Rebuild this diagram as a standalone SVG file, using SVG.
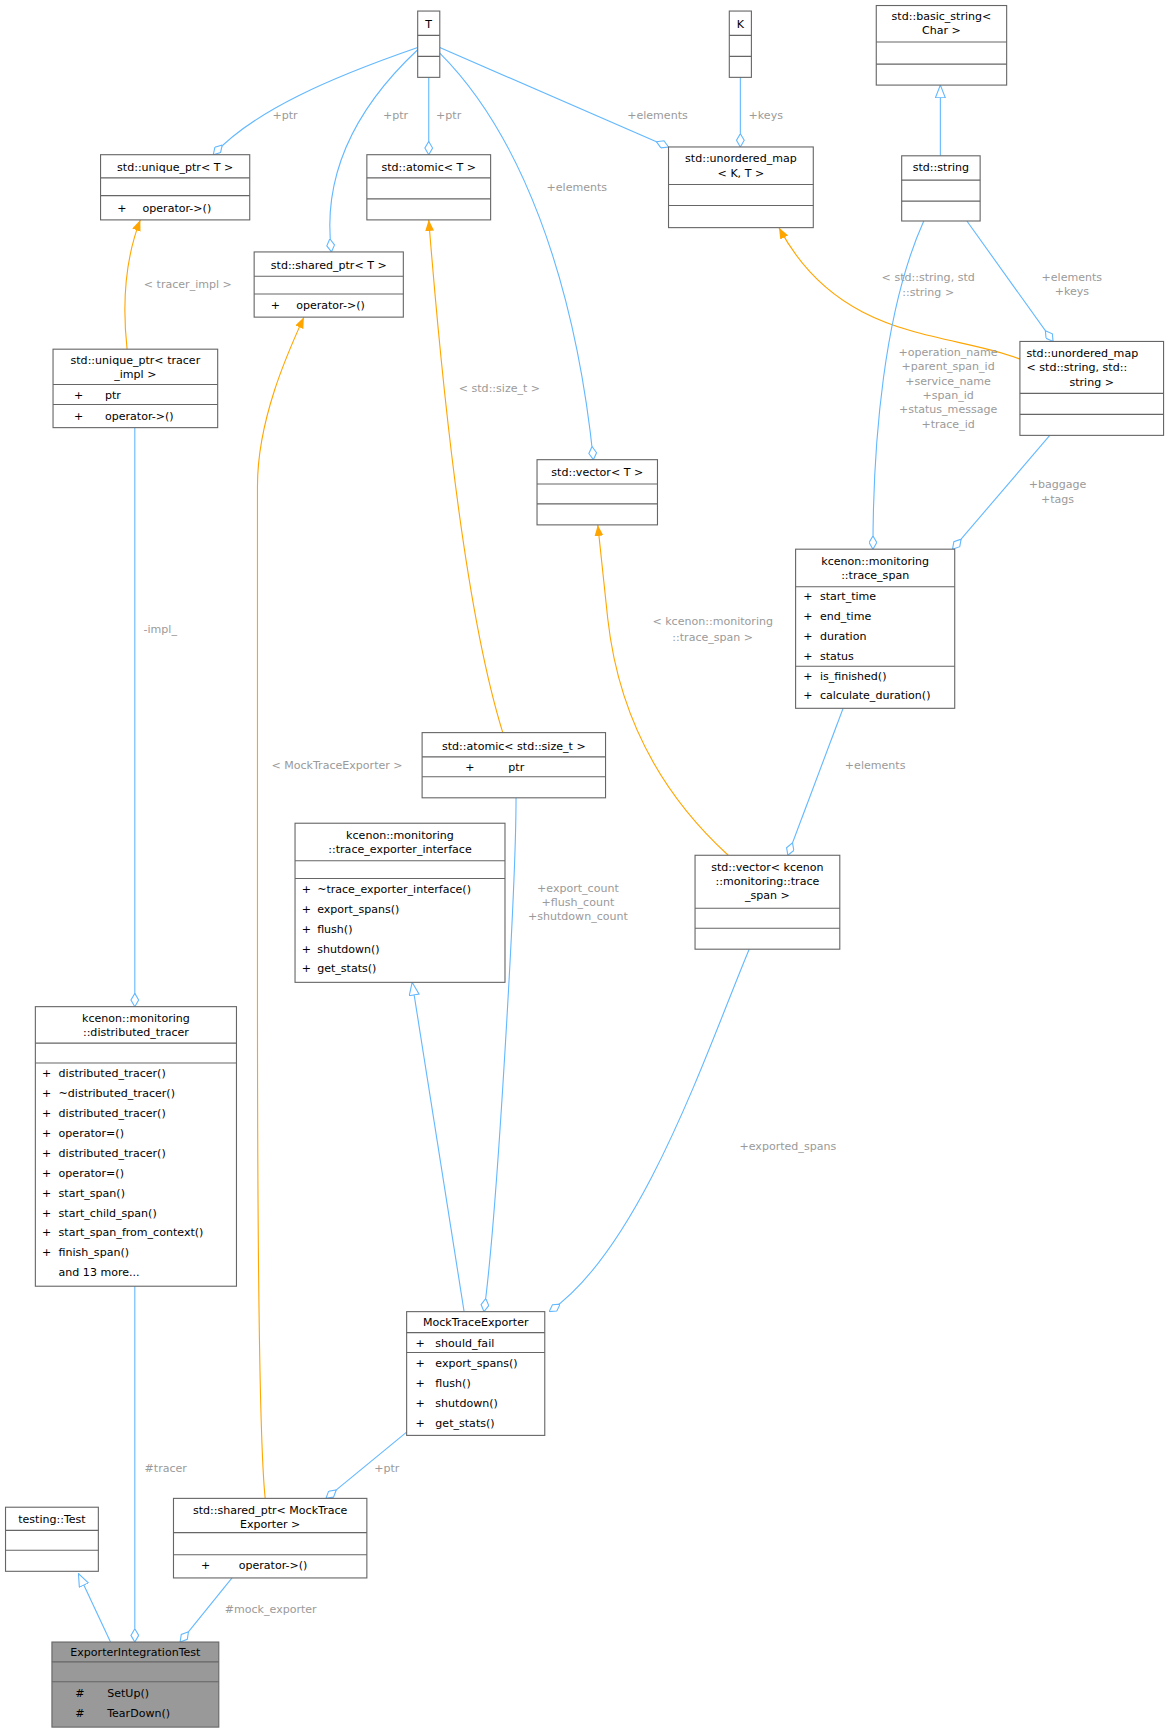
<svg xmlns="http://www.w3.org/2000/svg" width="1169" height="1732" viewBox="0 0 1169 1732">
<style>
text{font-family:"DejaVu Sans",sans-serif;font-size:10px;fill:#000}
.b{fill:#fff;stroke:#666;stroke-width:1}
.s{stroke:#666;stroke-width:1}
.c{text-anchor:middle}
.l{fill:#9a9a9a;text-anchor:middle}
.e{fill:none;stroke:#63b8ff;stroke-width:1}
.o{fill:none;stroke:#ffa500;stroke-width:1}
</style>
<defs>
<marker id="d" viewBox="0 0 12 8" refX="12" refY="4" markerWidth="12" markerHeight="8" markerUnits="userSpaceOnUse" orient="auto"><path d="M0,4 L6,0.5 L12,4 L6,7.5 Z" fill="#fff" stroke="#63b8ff"/></marker>
<marker id="t" viewBox="0 0 12 10" refX="12" refY="5" markerWidth="12" markerHeight="10" markerUnits="userSpaceOnUse" orient="auto"><path d="M0.5,0.5 L12,5 L0.5,9.5 Z" fill="#fff" stroke="#63b8ff"/></marker>
<marker id="a" viewBox="0 0 10 8" refX="10" refY="4" markerWidth="10" markerHeight="8" markerUnits="userSpaceOnUse" orient="auto"><path d="M0,0 L10,4 L0,8 Z" fill="#ffa500"/></marker>
</defs>
<rect width="1169" height="1732" fill="#fff"/>
<g transform="scale(1.105)">
<g id="edges">
<path class="e" d="M100,1486 L71,1424" marker-end="url(#t)"/>
<path class="e" d="M122,1164 L122,1486" marker-end="url(#d)"/>
<path class="e" d="M210,1428 L163,1486" marker-end="url(#d)"/>
<path class="e" d="M368,1296 L295,1356" marker-end="url(#d)"/>
<path class="o" d="M240,1356 C234,1300 233,1100 233,900 L233,440 C233,380 260,320 275,287" marker-end="url(#a)"/>
<path class="e" d="M420,1187 L373,889" marker-end="url(#t)"/>
<path class="e" d="M467,722 C467,800 450,1100 438,1187" marker-end="url(#d)"/>
<path class="e" d="M678,859 C640,950 580,1130 497,1187" marker-end="url(#d)"/>
<path class="e" d="M763,641 L713,774" marker-end="url(#d)"/>
<path class="o" d="M659,774 C600,720 560,650 550,560 L541,475" marker-end="url(#a)"/>
<path class="o" d="M455,663 C420,550 400,350 388,199" marker-end="url(#a)"/>
<path class="o" d="M115,316 C110,270 115,230 127,199" marker-end="url(#a)"/>
<path class="e" d="M122,387 L122,911" marker-end="url(#d)"/>
<path class="o" d="M923,325 C860,300 760,310 705,206" marker-end="url(#a)"/>
<path class="e" d="M875,200 L953,309" marker-end="url(#d)"/>
<path class="e" d="M836,200 C800,280 790,400 790,497" marker-end="url(#d)"/>
<path class="e" d="M950,394 L862,497" marker-end="url(#d)"/>
<path class="e" d="M851,141 L851,77" marker-end="url(#t)"/>
<path class="e" d="M378,43 C300,70 230,100 193,140" marker-end="url(#d)"/>
<path class="e" d="M378,45 C330,90 290,150 300,228" marker-end="url(#d)"/>
<path class="e" d="M388,70 L388,140" marker-end="url(#d)"/>
<path class="e" d="M398,48 C470,120 520,250 537,416" marker-end="url(#d)"/>
<path class="e" d="M398,43 L605,133" marker-end="url(#d)"/>
<path class="e" d="M670,70 L670,133" marker-end="url(#d)"/>
<text class="l" x="150" y="1332">#tracer</text>
<text class="l" x="245" y="1460">#mock_exporter</text>
<text class="l" x="350" y="1332">+ptr</text>
<text class="l" x="305" y="696">&lt; MockTraceExporter &gt;</text>
<text class="l" x="523" y="807">+export_count</text>
<text class="l" x="523" y="820">+flush_count</text>
<text class="l" x="523" y="833">+shutdown_count</text>
<text class="l" x="713" y="1041">+exported_spans</text>
<text class="l" x="792" y="696">+elements</text>
<text class="l" x="645" y="566">&lt; kcenon::monitoring</text>
<text class="l" x="645" y="580">::trace_span &gt;</text>
<text class="l" x="452" y="355">&lt; std::size_t &gt;</text>
<text class="l" x="170" y="261">&lt; tracer_impl &gt;</text>
<text class="l" x="145" y="573">-impl_</text>
<text class="l" x="840" y="254">&lt; std::string, std</text>
<text class="l" x="840" y="268">::string &gt;</text>
<text class="l" x="970" y="254">+elements</text>
<text class="l" x="970" y="267">+keys</text>
<text class="l" x="858" y="322">+operation_name</text>
<text class="l" x="858" y="335">+parent_span_id</text>
<text class="l" x="858" y="348">+service_name</text>
<text class="l" x="858" y="361">+span_id</text>
<text class="l" x="858" y="374">+status_message</text>
<text class="l" x="858" y="387">+trace_id</text>
<text class="l" x="957" y="442">+baggage</text>
<text class="l" x="957" y="455">+tags</text>
<text class="l" x="258" y="108">+ptr</text>
<text class="l" x="358" y="108">+ptr</text>
<text class="l" x="406" y="108">+ptr</text>
<text class="l" x="522" y="173">+elements</text>
<text class="l" x="595" y="108">+elements</text>
<text class="l" x="693" y="108">+keys</text>
</g>
<g id="ExporterIntegrationTest">
<rect x="47" y="1486" width="151" height="77" fill="#999" stroke="#666"/>
<path class="s" d="M47,1504H198M47,1522H198"/>
<text class="c" x="122.5" y="1499">ExporterIntegrationTest</text>
<text x="68" y="1536">#</text><text x="97" y="1536">SetUp()</text>
<text x="68" y="1554">#</text><text x="97" y="1554">TearDown()</text>
</g>
<g id="testingTest">
<rect class="b" x="5" y="1364" width="84" height="58"/>
<path class="s" d="M5,1385H89M5,1403H89"/>
<text class="c" x="47" y="1378">testing::Test</text>
</g>
<g id="sharedPtrMock">
<rect class="b" x="157" y="1356" width="175" height="72"/>
<path class="s" d="M157,1387H332M157,1407H332"/>
<text class="c" x="244.5" y="1370">std::shared_ptr&lt; MockTrace</text>
<text class="c" x="244.5" y="1383">Exporter &gt;</text>
<text x="182" y="1420">+</text><text x="216" y="1420">operator-&gt;()</text>
</g>
<g id="MockTraceExporter">
<rect class="b" x="368" y="1187" width="125" height="112"/>
<path class="s" d="M368,1206H493M368,1224H493"/>
<text class="c" x="430.5" y="1200">MockTraceExporter</text>
<text x="376" y="1219">+</text><text x="394" y="1219">should_fail</text>
<text x="376" y="1237">+</text><text x="394" y="1237">export_spans()</text>
<text x="376" y="1255">+</text><text x="394" y="1255">flush()</text>
<text x="376" y="1273">+</text><text x="394" y="1273">shutdown()</text>
<text x="376" y="1291">+</text><text x="394" y="1291">get_stats()</text>
</g>
<g id="distributedTracer">
<rect class="b" x="32" y="911" width="182" height="253"/>
<path class="s" d="M32,944H214M32,962H214"/>
<text class="c" x="123" y="925">kcenon::monitoring</text>
<text class="c" x="123" y="938">::distributed_tracer</text>
<text x="38" y="975">+</text><text x="53" y="975">distributed_tracer()</text>
<text x="38" y="993">+</text><text x="53" y="993">~distributed_tracer()</text>
<text x="38" y="1011">+</text><text x="53" y="1011">distributed_tracer()</text>
<text x="38" y="1029">+</text><text x="53" y="1029">operator=()</text>
<text x="38" y="1047">+</text><text x="53" y="1047">distributed_tracer()</text>
<text x="38" y="1065">+</text><text x="53" y="1065">operator=()</text>
<text x="38" y="1083">+</text><text x="53" y="1083">start_span()</text>
<text x="38" y="1101">+</text><text x="53" y="1101">start_child_span()</text>
<text x="38" y="1119">+</text><text x="53" y="1119">start_span_from_context()</text>
<text x="38" y="1137">+</text><text x="53" y="1137">finish_span()</text>
<text x="53" y="1155">and 13 more...</text>
</g>
<g id="traceExporterInterface">
<rect class="b" x="267" y="745" width="190" height="144"/>
<path class="s" d="M267,779H457M267,795H457"/>
<text class="c" x="362" y="759">kcenon::monitoring</text>
<text class="c" x="362" y="772">::trace_exporter_interface</text>
<text x="273" y="808">+</text><text x="287" y="808">~trace_exporter_interface()</text>
<text x="273" y="826">+</text><text x="287" y="826">export_spans()</text>
<text x="273" y="844">+</text><text x="287" y="844">flush()</text>
<text x="273" y="862">+</text><text x="287" y="862">shutdown()</text>
<text x="273" y="880">+</text><text x="287" y="880">get_stats()</text>
</g>
<g id="atomicSizeT">
<rect class="b" x="382" y="663" width="166" height="59"/>
<path class="s" d="M382,685H548M382,703H548"/>
<text class="c" x="465" y="679">std::atomic&lt; std::size_t &gt;</text>
<text x="421" y="698">+</text><text x="460" y="698">ptr</text>
</g>
<g id="vectorTraceSpan">
<rect class="b" x="629" y="774" width="131" height="85"/>
<path class="s" d="M629,822H760M629,840H760"/>
<text class="c" x="694.5" y="788">std::vector&lt; kcenon</text>
<text class="c" x="694.5" y="801">::monitoring::trace</text>
<text class="c" x="694.5" y="814">_span &gt;</text>
</g>
<g id="traceSpan">
<rect class="b" x="720" y="497" width="144" height="144"/>
<path class="s" d="M720,531H864M720,603H864"/>
<text class="c" x="792" y="511">kcenon::monitoring</text>
<text class="c" x="792" y="524">::trace_span</text>
<text x="727" y="543">+</text><text x="742" y="543">start_time</text>
<text x="727" y="561">+</text><text x="742" y="561">end_time</text>
<text x="727" y="579">+</text><text x="742" y="579">duration</text>
<text x="727" y="597">+</text><text x="742" y="597">status</text>
<text x="727" y="615">+</text><text x="742" y="615">is_finished()</text>
<text x="727" y="633">+</text><text x="742" y="633">calculate_duration()</text>
</g>
<g id="vectorT">
<rect class="b" x="486" y="416" width="109" height="59"/>
<path class="s" d="M486,438H595M486,456H595"/>
<text class="c" x="540.5" y="431">std::vector&lt; T &gt;</text>
</g>
<g id="uniquePtrTracerImpl">
<rect class="b" x="48" y="316" width="149" height="71"/>
<path class="s" d="M48,348H197M48,366H197"/>
<text class="c" x="122.5" y="329">std::unique_ptr&lt; tracer</text>
<text class="c" x="122.5" y="342">_impl &gt;</text>
<text x="67" y="361">+</text><text x="95" y="361">ptr</text>
<text x="67" y="380">+</text><text x="95" y="380">operator-&gt;()</text>
</g>
<g id="sharedPtrT">
<rect class="b" x="230" y="228" width="135" height="59"/>
<path class="s" d="M230,250H365M230,266H365"/>
<text class="c" x="297.5" y="243">std::shared_ptr&lt; T &gt;</text>
<text x="245" y="280">+</text><text x="268" y="280">operator-&gt;()</text>
</g>
<g id="uniquePtrT">
<rect class="b" x="91" y="140" width="135" height="59"/>
<path class="s" d="M91,161H226M91,177H226"/>
<text class="c" x="158.5" y="155">std::unique_ptr&lt; T &gt;</text>
<text x="106" y="192">+</text><text x="129" y="192">operator-&gt;()</text>
</g>
<g id="atomicT">
<rect class="b" x="332" y="140" width="112" height="59"/>
<path class="s" d="M332,161H444M332,180H444"/>
<text class="c" x="388" y="155">std::atomic&lt; T &gt;</text>
</g>
<g id="T">
<rect class="b" x="378" y="10" width="20" height="60"/>
<path class="s" d="M378,32H398M378,51H398"/>
<text class="c" x="388" y="25">T</text>
</g>
<g id="K">
<rect class="b" x="660" y="10" width="20" height="60"/>
<path class="s" d="M660,32H680M660,51H680"/>
<text class="c" x="670" y="25">K</text>
</g>
<g id="unorderedMapKT">
<rect class="b" x="605" y="133" width="131" height="73"/>
<path class="s" d="M605,167H736M605,186H736"/>
<text class="c" x="670.5" y="147">std::unordered_map</text>
<text class="c" x="670.5" y="160">&lt; K, T &gt;</text>
</g>
<g id="basicString">
<rect class="b" x="793" y="5" width="118" height="72"/>
<path class="s" d="M793,38H911M793,58H911"/>
<text class="c" x="852" y="18">std::basic_string&lt;</text>
<text class="c" x="852" y="31">Char &gt;</text>
</g>
<g id="stdString">
<rect class="b" x="816" y="141" width="71" height="59"/>
<path class="s" d="M816,163H887M816,182H887"/>
<text class="c" x="851.5" y="155">std::string</text>
</g>
<g id="unorderedMapStr">
<rect class="b" x="923" y="309" width="130" height="85"/>
<path class="s" d="M923,356H1053M923,375H1053"/>
<text x="929" y="323">std::unordered_map</text>
<text x="929" y="336">&lt; std::string, std::</text>
<text class="c" x="988" y="349">string &gt;</text>
</g>
</g>
</svg>
